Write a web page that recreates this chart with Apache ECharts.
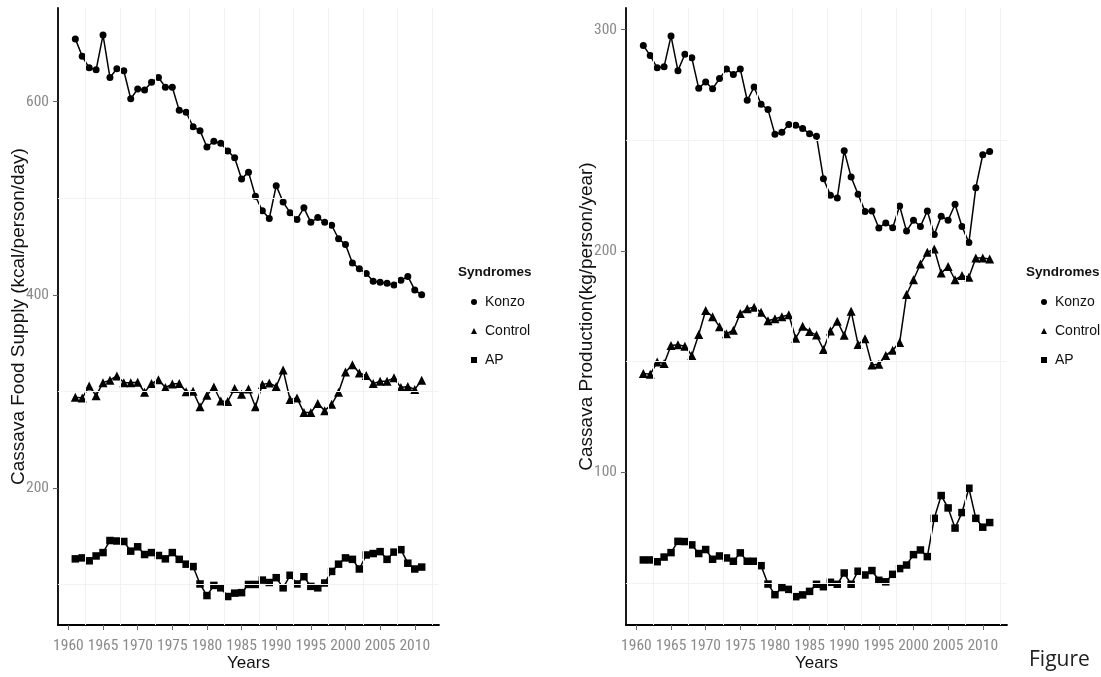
<!DOCTYPE html>
<html>
<head>
<meta charset="utf-8">
<script src="https://cdn.jsdelivr.net/npm/echarts@6/dist/echarts.min.js"></script>
<style>
html,body{margin:0;padding:0;background:#fff;}
#chart{width:1101px;height:677px;}
</style>
</head>
<body>
<div id="chart"></div>
<script>
var years = [];
for (var y = 1961; y <= 2011; y++) years.push(y);

var xTicks = [1960, 1965, 1970, 1975, 1980, 1985, 1990, 1995, 2000, 2005, 2010];
var xGrid = [1962.5, 1967.5, 1972.5, 1977.5, 1982.5, 1987.5, 1992.5, 1997.5, 2002.5, 2007.5, 2012.5];
var leftYTicks = [200, 400, 600];
var leftYGrid = [100, 300, 500];
var rightYTicks = [100, 200, 300];
var rightYGrid = [50, 150, 250];

// Left panel: Cassava Food Supply (kcal/person/day)
var supplyKonzo = [665,647,635,633,669,625,634,632,603,613,612,620,625,615,615,591,589,574,570,553,559,557,549,542,520,527,502,487,479,513,496,485,478,490,475,480,475,472,458,452,433,427,422,414,413,412,410,415,419,405,400];
var supplyControl = [294,293,305.5,295.5,309,311.5,316,309,309,309.5,299,308,312,304,307.5,308,299.5,300,284,296,304.5,290,289.5,303,297,302.5,284,307,308.5,305,322,291.5,293,278,278,287.5,280,286.5,299,320,327.5,319,316.5,308,310.5,310.5,314,304,305,302,311.5];
var supplyAP = [126.5,127.5,124.5,129.5,133,145.5,145,144.5,134.5,139,131,133,130,126.5,133,126,121,118.5,100.5,88.5,99,96.5,87.5,91,91.5,100,100,104.5,102,107,96.5,109.5,100.5,108,98,96.5,101.5,113.5,121,127.5,126,116,130.5,132,134,126,133.5,136,122,116,118];

// Right panel: Cassava Production (kg/person/year)
var prodKonzo = [292.9,288.3,282.8,283.3,297.1,281.5,288.9,287.3,273.5,276.4,273.3,277.9,282.2,279.8,282.2,268.1,274.1,266.3,263.9,252.7,253.6,257.2,256.8,255.3,253,251.8,232.7,225.2,224,245.3,233.4,225.6,217.9,218.1,210.4,212.7,210.5,220.3,209,213.9,211.1,218.1,207.4,215.7,213.9,221.1,211.1,203.8,228.6,243.5,245];
var prodControl = [144.7,144.3,149.8,149.2,157.3,157.6,157,152.8,162.3,173.1,170.3,165.8,162.6,164.2,171.8,173.9,174.6,172.3,168.5,169.4,170.3,171.2,160.6,166,163.6,162,155.5,163.8,168.3,161.9,172.8,157.8,160.3,148.5,148.8,152.8,155.2,158.6,180.3,187,194.1,199.4,200.9,190,193,187,188.9,188.1,196.8,196.8,196.4];
var prodAP = [60.4,60.4,59.6,61.7,63.7,68.8,68.7,67.2,63.3,65.1,60.7,62.2,61.3,59.8,63.6,59.8,59.8,57.8,49.5,44.7,47.9,47.1,43.8,44.6,46.2,49.4,48.3,50.3,49.4,54.5,49.4,55.3,53.6,55.6,51.2,50.5,53.9,56.5,58.1,62.8,64.9,61.9,79.2,89.5,83.9,74.8,81.8,92.8,79.2,75.2,77.3];

var seriesNames = ['Konzo', 'Control', 'AP'];
var symbols = ['circle', 'triangle', 'rect'];
var symbolSizes = [7, 9, 7.5];

function pairs(vals) {
  return years.map(function (yr, i) { return [yr, vals[i]]; });
}

var REG = "'Liberation Sans', Arial, sans-serif";

// pick a condensed font for tick labels if one is installed
function fontAvailable(name) {
  var c = document.createElement('canvas').getContext('2d');
  var s = 'abcdefghij 0123456789 WMwm';
  c.font = '20px monospace';
  var w1 = c.measureText(s).width;
  c.font = '20px "' + name + '", monospace';
  var w2 = c.measureText(s).width;
  return Math.abs(w1 - w2) > 0.5;
}
var tickFont = REG, tickSize = 13;
var narrowCands = ['Liberation Sans Narrow', 'Roboto Condensed', 'Noto Sans Condensed', 'Open Sans Condensed'];
for (var i = 0; i < narrowCands.length; i++) {
  if (fontAvailable(narrowCands[i])) { tickFont = "'" + narrowCands[i] + "', sans-serif"; tickSize = 15.5; break; }
}

var GRID_COLOR = '#f2f2f2';

function plainFmt(v) { return String(Math.round(v)); }

function xAxisDef(gridIndex) {
  return {
    type: 'value', gridIndex: gridIndex, min: 1958.5, max: 2013.5,
    name: 'Years', nameLocation: 'middle', nameGap: 30, nameMoveOverlap: false,
    nameTextStyle: { fontFamily: REG, fontSize: 17, color: '#111' },
    axisLine: { show: true, onZero: false, lineStyle: { color: '#000', width: 1.8 } },
    axisTick: { show: true, length: 5, customValues: xTicks, lineStyle: { color: '#666', width: 1 } },
    axisLabel: { customValues: xTicks, formatter: plainFmt, showMinLabel: true, showMaxLabel: true, hideOverlap: false,
      margin: 13, fontFamily: tickFont, fontSize: tickSize, color: '#8a8a8a' },
    splitLine: { show: false }
  };
}

function yAxisDef(gridIndex, min, max, ticks, name) {
  return {
    type: 'value', gridIndex: gridIndex, min: min, max: max,
    name: name, nameLocation: 'middle', nameGap: 30, nameRotate: 90, nameMoveOverlap: false,
    nameTextStyle: { fontFamily: REG, fontSize: 19, color: '#111' },
    axisLine: { show: true, onZero: false, lineStyle: { color: '#000', width: 1.8 } },
    axisTick: { show: true, length: 5, customValues: ticks, lineStyle: { color: '#666', width: 1 } },
    axisLabel: { customValues: ticks, formatter: plainFmt, showMinLabel: true, showMaxLabel: true, hideOverlap: false,
      margin: 9, fontFamily: tickFont, fontSize: tickSize, color: '#8a8a8a' },
    splitLine: { show: false }
  };
}

function gridSeries(idx, yGrid) {
  var d = [];
  xGrid.forEach(function (v) { d.push({ xAxis: v }); });
  yGrid.forEach(function (v) { d.push({ yAxis: v }); });
  return {
    type: 'line', name: 'grid' + idx, xAxisIndex: idx, yAxisIndex: idx, data: [],
    silent: true, z: 0,
    markLine: {
      silent: true, symbol: ['none', 'none'], label: { show: false },
      lineStyle: { type: 'solid', color: GRID_COLOR, width: 1 },
      emphasis: { disabled: true },
      data: d
    }
  };
}

function dataSeries(idx, k, vals) {
  return {
    type: 'line', name: seriesNames[k], xAxisIndex: idx, yAxisIndex: idx,
    data: pairs(vals), symbol: symbols[k], symbolSize: symbolSizes[k], showSymbol: true,
    lineStyle: { color: '#000', width: 1.5 }, itemStyle: { color: '#000' },
    z: 3
  };
}

function legendDef(left) {
  return {
    orient: 'vertical', left: left, top: 290, itemWidth: 6, itemHeight: 6, itemGap: 15,
    selectedMode: false,
    textStyle: { fontFamily: REG, fontSize: 14, color: '#111', lineHeight: 14, padding: [0, 0, 0, 3] },
    data: [
      { name: 'Konzo', icon: 'circle', itemStyle: { color: '#000' } },
      { name: 'Control', icon: 'triangle', itemStyle: { color: '#000' } },
      { name: 'AP', icon: 'rect', itemStyle: { color: '#000' } }
    ]
  };
}

var chart = echarts.init(document.getElementById('chart'), null, { renderer: 'canvas' });
chart.setOption({
  animation: false,
  backgroundColor: '#fff',
  grid: [
    { left: 58, top: 8, width: 381, height: 619 },
    { left: 626, top: 8, width: 381, height: 619 }
  ],
  xAxis: [xAxisDef(0), xAxisDef(1)],
  yAxis: [
    yAxisDef(0, 58, 697, leftYTicks, 'Cassava Food Supply (kcal/person/day)'),
    yAxisDef(1, 31, 309.8, rightYTicks, 'Cassava Production(kg/person/year)')
  ],
  legend: [legendDef(466), legendDef(1036)],
  graphic: [
    { type: 'text', left: 458, top: 265, style: { text: 'Syndromes', font: 'bold 13.5px ' + REG, fill: '#111' } },
    { type: 'text', left: 1026, top: 265, style: { text: 'Syndromes', font: 'bold 13.5px ' + REG, fill: '#111' } },
    { type: 'text', left: 1029, top: 650, style: { text: 'Figure', font: '21px "Open Sans", sans-serif', fill: '#222' } }
  ],
  series: [
    gridSeries(0, leftYGrid), gridSeries(1, rightYGrid),
    dataSeries(0, 0, supplyKonzo), dataSeries(0, 1, supplyControl), dataSeries(0, 2, supplyAP),
    dataSeries(1, 0, prodKonzo), dataSeries(1, 1, prodControl), dataSeries(1, 2, prodAP)
  ]
});
</script>
</body>
</html>
